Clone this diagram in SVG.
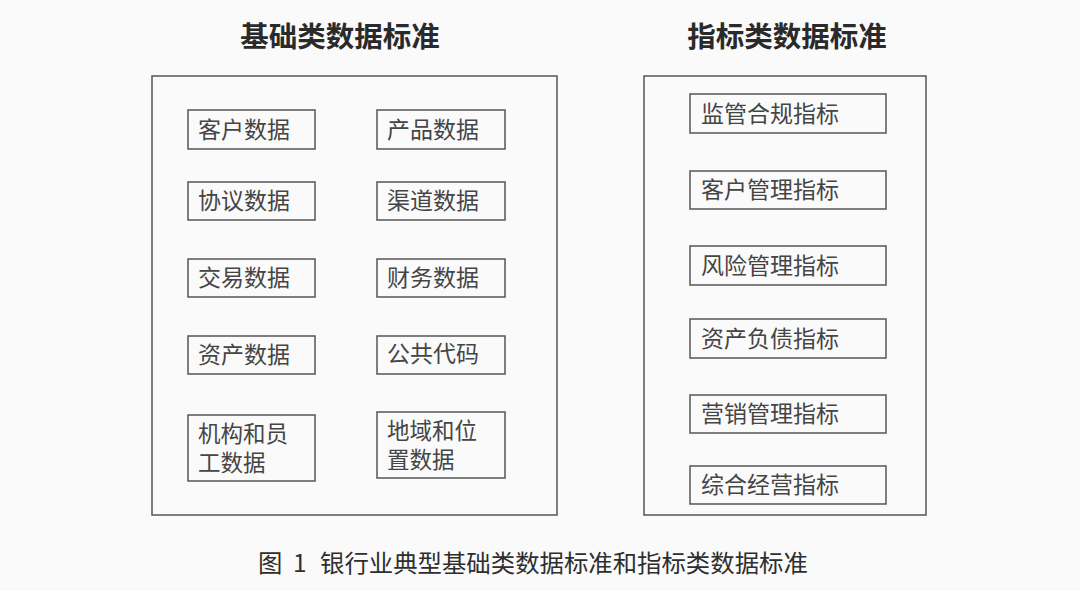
<svg xmlns="http://www.w3.org/2000/svg" width="1080" height="591" viewBox="0 0 1080 591">
<style>
text{font-family:"Noto Sans CJK SC","Noto Sans",sans-serif;fill:#333}
.title{font-size:28.5px;font-weight:bold;text-anchor:middle;fill:#2a2a2a}
.outer{fill:none;stroke:#555;stroke-width:1.5}
.box{fill:none;stroke:#555;stroke-width:1.5}
.lbl{font-size:23px;fill:#454545}
.lbl2{font-size:22.5px;fill:#454545}
.cap{font-size:24.4px;fill:#2e2e2e}
</style>
<rect width="1080" height="591" fill="#fafafb"/>
<text class="title" x="340" y="47">基础类数据标准</text>
<text class="title" x="787" y="47">指标类数据标准</text>
<rect class="outer" x="152" y="76" width="405" height="439"/>
<rect class="outer" x="644" y="76" width="282" height="439"/>
<g id="n1"><rect class="box" x="188" y="110" width="127" height="39"/><text class="lbl" x="198" y="138">客户数据</text></g>
<g id="n2"><rect class="box" x="377" y="110" width="128" height="39"/><text class="lbl" x="387" y="138">产品数据</text></g>
<g id="n3"><rect class="box" x="188" y="182" width="127" height="38"/><text class="lbl" x="198" y="209">协议数据</text></g>
<g id="n4"><rect class="box" x="377" y="182" width="128" height="38"/><text class="lbl" x="387" y="209">渠道数据</text></g>
<g id="n5"><rect class="box" x="188" y="259" width="127" height="38"/><text class="lbl" x="198" y="286">交易数据</text></g>
<g id="n6"><rect class="box" x="377" y="259" width="128" height="38"/><text class="lbl" x="387" y="286">财务数据</text></g>
<g id="n7"><rect class="box" x="188" y="336" width="127" height="38"/><text class="lbl" x="198" y="363">资产数据</text></g>
<g id="n8"><rect class="box" x="377" y="336" width="128" height="38"/><text class="lbl" x="387" y="362">公共代码</text></g>
<g id="n9"><rect class="box" x="188" y="415" width="127" height="66"/><text class="lbl2" x="198" y="442">机构和员</text><text class="lbl2" x="198" y="471">工数据</text></g>
<g id="n10"><rect class="box" x="377" y="412" width="128" height="66"/><text class="lbl2" x="387" y="439">地域和位</text><text class="lbl2" x="387" y="468">置数据</text></g>
<g id="m1"><rect class="box" x="690" y="94" width="196" height="39"/><text class="lbl" x="701" y="122">监管合规指标</text></g>
<g id="m2"><rect class="box" x="690" y="171" width="196" height="38"/><text class="lbl" x="701" y="198">客户管理指标</text></g>
<g id="m3"><rect class="box" x="690" y="246" width="196" height="39"/><text class="lbl" x="701" y="274">风险管理指标</text></g>
<g id="m4"><rect class="box" x="690" y="319" width="196" height="39"/><text class="lbl" x="701" y="347">资产负债指标</text></g>
<g id="m5"><rect class="box" x="690" y="395" width="196" height="38"/><text class="lbl" x="701" y="422">营销管理指标</text></g>
<g id="m6"><rect class="box" x="690" y="466" width="196" height="38"/><text class="lbl" x="701" y="493">综合经营指标</text></g>
<g id="connectors"></g>
<text class="cap" x="258" y="572">图<tspan x="293">1</tspan><tspan x="320">银行业典型基础类数据标准和指标类数据标准</tspan></text>
</svg>
